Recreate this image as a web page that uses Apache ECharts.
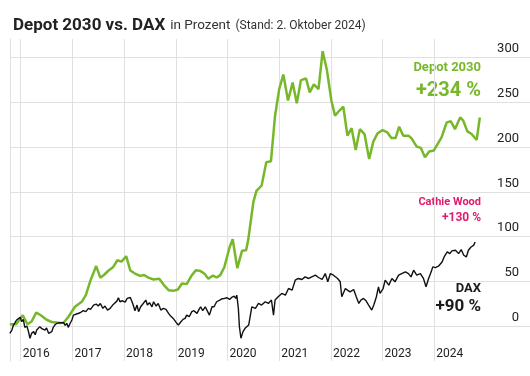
<!DOCTYPE html>
<html><head><meta charset="utf-8">
<script src="https://cdn.jsdelivr.net/npm/echarts@6/dist/echarts.min.js"></script>
<style>html,body{margin:0;padding:0;background:#fff}#c{width:530px;height:376px}</style>
</head><body><div id="c"></div>
<script>
// ---- Data (decimal years, percent change) ----
const depotT = [2015.79,2015.91,2016.04,2016.13,2016.21,2016.30,2016.39,2016.50,2016.60,2016.76,2016.83,2016.92,2017.05,2017.18,2017.26,2017.35,2017.46,2017.54,2017.61,2017.70,2017.79,2017.87,2017.95,2018.04,2018.12,2018.21,2018.31,2018.39,2018.47,2018.57,2018.68,2018.77,2018.86,2018.95,2019.04,2019.12,2019.21,2019.31,2019.39,2019.47,2019.55,2019.63,2019.72,2019.79,2019.86,2019.94,2020.04,2020.10,2020.19,2020.28,2020.36,2020.40,2020.50,2020.56,2020.66,2020.75,2020.84,2020.92,2021.00,2021.08,2021.17,2021.26,2021.34,2021.42,2021.52,2021.59,2021.67,2021.76,2021.84,2021.92,2022.01,2022.08,2022.16,2022.24,2022.32,2022.40,2022.48,2022.56,2022.65,2022.74,2022.82,2022.90,2023.00,2023.09,2023.17,2023.25,2023.32,2023.40,2023.50,2023.56,2023.66,2023.74,2023.82,2023.90,2023.99,2024.08,2024.14,2024.24,2024.32,2024.40,2024.50,2024.56,2024.64,2024.72,2024.82,2024.88];
const depotV = [1.9,2,12,2,5,15,12,7,4.5,3.3,3.7,10,21.5,27,34.5,51,67,54,57,62,66,73.5,72,78,62,58.6,56,57,54,52,52.7,45.7,40,39.3,40.8,47.5,46.8,56.8,62.4,61.6,58.6,52.7,56.4,54.2,56.8,66,88,97,64.6,84,84.6,96,138.5,151,157,183,184,235,264.7,281,252,272,249,274.7,276.5,261,270,264.7,307,287,251.7,235,240.5,245,212.7,221,196.7,220,214.5,186.7,206,215,219,216.4,210,210,222.7,212.7,212.7,209.7,200.4,199,188.6,195,196,205,210.8,227.5,228.7,220,233,229.4,217.5,214.5,207.9,233];

const daxT = [2015.79,2015.83,2015.86,2015.89,2015.92,2015.95,2015.99,2016.02,2016.05,2016.08,2016.12,2016.15,2016.18,2016.21,2016.25,2016.28,2016.31,2016.34,2016.37,2016.41,2016.44,2016.47,2016.50,2016.54,2016.57,2016.60,2016.63,2016.66,2016.70,2016.73,2016.76,2016.79,2016.83,2016.86,2016.89,2016.92,2016.95,2016.99,2017.02,2017.08,2017.15,2017.21,2017.26,2017.31,2017.35,2017.41,2017.46,2017.50,2017.54,2017.59,2017.63,2017.68,2017.73,2017.79,2017.86,2017.89,2017.92,2017.97,2018.02,2018.06,2018.12,2018.17,2018.21,2018.25,2018.28,2018.32,2018.37,2018.42,2018.45,2018.49,2018.54,2018.57,2018.62,2018.66,2018.71,2018.76,2018.81,2018.86,2018.90,2018.95,2019.01,2019.05,2019.10,2019.14,2019.18,2019.21,2019.26,2019.31,2019.35,2019.41,2019.45,2019.48,2019.52,2019.57,2019.60,2019.65,2019.70,2019.74,2019.79,2019.85,2019.89,2019.94,2019.99,2020.04,2020.08,2020.13,2020.16,2020.18,2020.21,2020.23,2020.26,2020.30,2020.34,2020.41,2020.47,2020.54,2020.60,2020.66,2020.73,2020.79,2020.85,2020.89,2020.92,2020.98,2021.05,2021.12,2021.18,2021.25,2021.31,2021.37,2021.44,2021.50,2021.57,2021.63,2021.70,2021.76,2021.83,2021.89,2021.94,2021.99,2022.05,2022.13,2022.18,2022.21,2022.28,2022.32,2022.37,2022.44,2022.49,2022.54,2022.58,2022.63,2022.68,2022.73,2022.79,2022.83,2022.88,2022.92,2022.95,2023.01,2023.05,2023.12,2023.18,2023.24,2023.31,2023.37,2023.44,2023.50,2023.55,2023.60,2023.66,2023.73,2023.79,2023.84,2023.89,2023.94,2023.97,2024.02,2024.08,2024.15,2024.19,2024.25,2024.30,2024.34,2024.41,2024.47,2024.52,2024.57,2024.62,2024.66,2024.71,2024.76,2024.79];
const daxV = [-8.2,-4.5,1.1,3.7,6.7,4.8,9.7,4.8,7.4,-1.5,0,-6.3,-13.7,-8.2,-6.3,-9.7,-4.5,-5.2,-0.7,-3.0,-1.5,-4.5,-2.2,-8.2,-9.7,-6.3,-1.5,1.1,3.0,1.1,3.7,2.2,3.7,0.7,3.0,-1.5,2.2,6.7,12.2,13.4,14.8,17.1,16.0,19.7,18.6,23.4,24.5,22.3,25.2,19.7,22.3,17.8,19.7,24.1,27.8,31.6,27.1,28.2,26.7,30.8,31.9,24.5,17.1,23.4,16.0,21.5,25.2,29.0,23.4,26.0,21.5,27.1,22.3,25.2,17.8,19.7,18.6,14.1,11.1,8.5,3.7,1.1,4.8,7.4,8.5,12.2,10.4,16.0,17.1,14.1,18.6,21.5,17.1,21.5,19.7,12.2,21.5,21.5,27.1,29.0,30.4,30.8,31.6,29.7,31.9,33.4,30.8,34.5,19.7,-0.7,-13.7,-6.3,-2.6,1.1,21.5,19.7,25.2,23.4,27.1,25.2,29.0,12.2,29.0,32.7,36.4,34.5,41.9,40.1,51.2,53.1,52.0,54.9,53.1,54.9,56.8,54.2,52.0,58.6,49.4,58.6,56.8,53.1,49.4,32.7,41.9,40.1,38.2,40.8,32.7,25.2,29.0,30.8,28.2,23.4,17.8,23.4,32.7,43.8,36.4,41.9,51.2,45.7,53.1,49.4,56.8,58.6,60.5,58.6,54.9,62.4,56.8,58.6,53.1,43.8,53.1,60.5,66.1,65.3,66.8,71.6,77.2,82.8,80.9,83.9,84.6,80.9,85.4,79.1,77.2,84.6,88.3,90.1,93.9];

const yearMin = 2016, yearMax = 2024;      // x tick labels 2016..2024
const yTickMin = 0, yTickMax = 300, yTickStep = 50;  // y tick labels

// ---- Build ----
function pairs(t, v){ const n = Math.min(t.length, v.length); const out=[]; for(let i=0;i<n;i++) out.push([t[i], v[i]]); return out; }
const FONT = 'Roboto, "Noto Sans", sans-serif';
const GRIDC = '#e0e0e0';
const GREEN = '#76b82a';
const chart = echarts.init(document.getElementById('c'));
chart.setOption({
  animation: false,
  backgroundColor: '#fff',
  title: {
    left: 8, top: 11,
    text: '{a|Depot 2030 vs. DAX} {b|in Prozent} {c|(Stand: 2. Oktober 2024)}',
    textStyle: { fontWeight: 'normal', rich: {
      a: { fontFamily: FONT, fontWeight: 'bold', fontSize: 17, color: '#222', lineHeight: 20 },
      b: { fontFamily: FONT, fontWeight: 'normal', fontSize: 13.5, color: '#333', lineHeight: 20 },
      c: { fontFamily: FONT, fontWeight: 'normal', fontSize: 12, color: '#333', lineHeight: 20 }
    }}
  },
  grid: [
    { left: 10, right: 0, top: 39, bottom: 15 },
    { left: 20.7, right: 95.7, top: 39, bottom: 15 },
    { left: 10, right: 0, top: 57.5, bottom: 50 }
  ],
  xAxis: [
    { gridIndex: 0, type: 'value', min: 2015.793, max: 2025.851, show: false },
    { gridIndex: 1, type: 'value', min: yearMin, max: yearMax, interval: 1,
      axisLine: { show: false }, axisTick: { show: false },
      splitLine: { show: true, lineStyle: { color: GRIDC, width: 1 } },
      axisLabel: { inside: true, margin: 1, align: 'left', padding: [0,0,0,2],
        fontFamily: FONT, fontSize: 12, color: '#222', formatter: v => String(v) } },
    { gridIndex: 2, type: 'value', min: 0, max: 1, show: false }
  ],
  yAxis: [
    { gridIndex: 0, type: 'value', min: -39.1, max: 320.7, position: 'left',
      axisLine: { show: true, lineStyle: { color: GRIDC } }, axisTick: { show: false },
      axisLabel: { show: false }, splitLine: { show: false } },
    { gridIndex: 1, type: 'value', min: 0, max: 1, show: false },
    { gridIndex: 2, type: 'value', position: 'right', min: yTickMin, max: yTickMax, interval: yTickStep,
      axisLine: { show: false }, axisTick: { show: false },
      splitLine: { show: true, lineStyle: { color: GRIDC, width: 1 } },
      axisLabel: { inside: true, margin: 11, align: 'right', verticalAlign: 'bottom', padding: [0,0,2,0],
        fontFamily: FONT, fontSize: 13, color: '#222' } }
  ],
  series: [
    { name: 'Depot 2030', type: 'line', xAxisIndex: 0, yAxisIndex: 0, data: pairs(depotT, depotV),
      showSymbol: false, symbol: 'none', lineStyle: { color: GREEN, width: 2.5 }, itemStyle: { color: GREEN }, z: 3 },
    { name: 'DAX', type: 'line', xAxisIndex: 0, yAxisIndex: 0, data: pairs(daxT, daxV),
      showSymbol: false, symbol: 'none', lineStyle: { color: '#111', width: 1.4 }, itemStyle: { color: '#111' }, z: 4 }
  ],
  graphic: [
    { type: 'text', x: 481, y: 68, style: { text: 'Depot 2030', align: 'right', verticalAlign: 'middle', font: 'bold 13px ' + FONT, fill: GREEN } },
    { type: 'text', x: 481, y: 91, style: { text: '+234 %', align: 'right', verticalAlign: 'middle', font: 'bold 20px ' + FONT, fill: GREEN } },
    { type: 'text', x: 481, y: 202, style: { text: 'Cathie Wood', align: 'right', verticalAlign: 'middle', font: 'bold 11px ' + FONT, fill: '#e2196c' } },
    { type: 'text', x: 481, y: 218, style: { text: '+130 %', align: 'right', verticalAlign: 'middle', font: 'bold 12px ' + FONT, fill: '#e2196c' } },
    { type: 'text', x: 481, y: 289, style: { text: 'DAX', align: 'right', verticalAlign: 'middle', font: 'bold 13px ' + FONT, fill: '#1a1a1a' } },
    { type: 'text', x: 481, y: 307, style: { text: '+90 %', align: 'right', verticalAlign: 'middle', font: 'bold 17px ' + FONT, fill: '#1a1a1a' } }
  ]
});
</script></body></html>
